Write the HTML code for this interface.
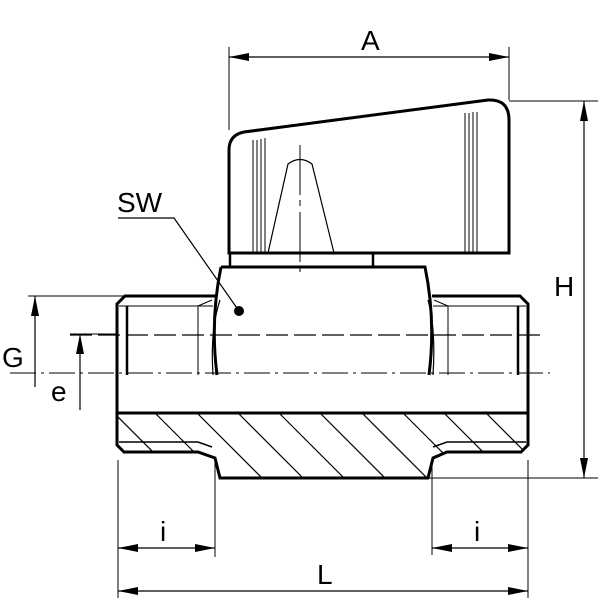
<!DOCTYPE html>
<html><head><style>html,body{margin:0;padding:0;background:#fff}svg{display:block}text{font-family:"Liberation Sans",sans-serif;fill:#000}</style></head><body>
<svg width="604" height="604" viewBox="0 0 604 604" xmlns="http://www.w3.org/2000/svg">
<defs>
<marker id="ar" viewBox="0 0 20 8" refX="20" refY="4" markerWidth="20" markerHeight="8" markerUnits="userSpaceOnUse" orient="auto-start-reverse"><path d="M0,0 L20,4 L0,8 Z" fill="#000"/></marker>
<clipPath id="sec"><path d="M117,413 L528,413 L528,445 L521,452 L447,452 L433,458 L428,478 L220,478 L215,458 L198,452 L124,452 L117,445 Z"/></clipPath>
</defs>
<g fill="none" stroke="#000">
<g clip-path="url(#sec)" stroke-width="1.2">
<path d="M72,413 l80,80 M114,413 l80,80 M155,413 l80,80 M197,413 l80,80 M238,413 l80,80 M279,413 l80,80 M320,413 l80,80 M362,413 l80,80 M403,413 l80,80 M444,413 l80,80 M486,413 l80,80 M527,413 l80,80"/>
</g>
<path d="M229,253 L229,150 Q229,135 244,132 L488,100 Q509,99 509,120 L509,253 Z" stroke-width="3"/>
<path d="M253,140 v112 M257,140 v112 M261,139 v113 M265,138 v114 M465,113 v139 M469,113 v139 M473,112 v140 M477,112 v140" stroke-width="1"/>
<path d="M268,253 L288,164 Q300,155 312,164 L334,253" stroke-width="1.2"/>
<path d="M300,145 v50 M300,200 v6 M300,212 v50 M300,268 v4" stroke-width="1"/>
<path d="M230,253 V267 M373,253 V267" stroke-width="2.5"/>
<path d="M221,267 L425,267 Q436,320 429,375 M221,267 Q210,320 217,375" stroke-width="3"/>
<path d="M213,375 Q210,330 220,300 M433,375 Q436,330 428,300" stroke-width="1.2"/>
<path d="M215,296 L125,296 L117,304 L117,445 L124,452 L198,452 L215,458 L220,478 L428,478 L433,458 L447,452 L521,452 L528,445 L528,304 L520,296 L432,296" stroke-width="3"/>
<path d="M117,413 H528" stroke-width="3"/>
<path d="M127,306 V375 M518,306 V375" stroke-width="2.5"/>
<path d="M119,306 H213 M433,306 H526 M198,306 V375 M448,306 V375 M198,306 L212,300 M448,306 L434,300" stroke-width="1"/>
<path d="M119,442 H198 L212,447 M433,447 L447,442 H526" stroke-width="1.5"/>
<path d="M70,335 H545" stroke-width="1.2" stroke-dasharray="22,6"/>
<path d="M10,373 H550" stroke-width="1" stroke-dasharray="26,5,3,5"/>
<path d="M118,218 H174 L239,311" stroke-width="1.2"/>
<path d="M229,47 V130 M509,47 V100 M509,101 H598 M425,478 H598 M28,296 H125 M70,334 H118 M118,460 V598 M215,462 V557 M432,462 V555 M528,460 V598" stroke-width="1"/>
<path d="M229,57 H509" stroke-width="1.2" marker-start="url(#ar)" marker-end="url(#ar)"/>
<path d="M584,101 V478" stroke-width="1.2" marker-start="url(#ar)" marker-end="url(#ar)"/>
<path d="M35,387 V296" stroke-width="1.2" marker-end="url(#ar)"/>
<path d="M80,410 V334" stroke-width="1.2" marker-end="url(#ar)"/>
<path d="M118,548 H215" stroke-width="1.2" marker-start="url(#ar)" marker-end="url(#ar)"/>
<path d="M432,548 H528" stroke-width="1.2" marker-start="url(#ar)" marker-end="url(#ar)"/>
<path d="M118,591 H528" stroke-width="1.2" marker-start="url(#ar)" marker-end="url(#ar)"/>
</g>
<circle cx="239" cy="311" r="5" fill="#000"/>
<g font-size="28">
<text x="361" y="50">A</text>
<text x="117" y="212">SW</text>
<text x="554" y="296">H</text>
<text x="2" y="367">G</text>
<text x="51" y="401">e</text>
<text x="160" y="541">i</text>
<text x="474" y="541">i</text>
<text x="317" y="584">L</text>
</g>
</svg>
</body></html>
